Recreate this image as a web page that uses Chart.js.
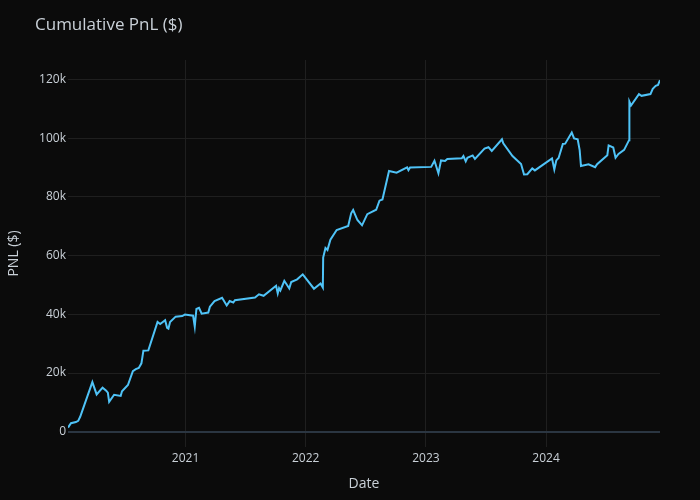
<!DOCTYPE html>
<html>
<head>
<meta charset="utf-8">
<script src="https://cdn.jsdelivr.net/npm/chart.js@4.4.1/dist/chart.umd.min.js"></script>
<style>
  html, body { margin: 0; padding: 0; background: #0b0b0b; }
  canvas { display: block; }
</style>
</head>
<body>
<canvas id="pnl" width="700" height="500"></canvas>
<script>
// trade dates and cumulative pnl
const dates = [
  '2020-01-10', '2020-01-19', '2020-02-03', '2020-02-10', '2020-02-16', '2020-03-24',
  '2020-04-06', '2020-04-24', '2020-05-05', '2020-05-10', '2020-05-14', '2020-05-29',
  '2020-06-18', '2020-06-22', '2020-07-10', '2020-07-25', '2020-08-03', '2020-08-12',
  '2020-08-20', '2020-08-26', '2020-09-10', '2020-10-08', '2020-10-16', '2020-10-31',
  '2020-11-06', '2020-11-10', '2020-11-15', '2020-12-02', '2020-12-22', '2020-12-30',
  '2021-01-24', '2021-01-29', '2021-02-03', '2021-02-11', '2021-02-19', '2021-03-11',
  '2021-03-16', '2021-03-30', '2021-04-22', '2021-05-06', '2021-05-15', '2021-05-26',
  '2021-05-31', '2021-07-31', '2021-08-12', '2021-08-26', '2021-10-03', '2021-10-08',
  '2021-10-12', '2021-10-16', '2021-10-28', '2021-11-12', '2021-11-18', '2021-12-06',
  '2021-12-23', '2022-01-26', '2022-02-15', '2022-02-22', '2022-02-23', '2022-03-02',
  '2022-03-08', '2022-03-17', '2022-04-05', '2022-05-10', '2022-05-19', '2022-05-25',
  '2022-06-07', '2022-06-21', '2022-07-07', '2022-08-03', '2022-08-13', '2022-08-22',
  '2022-09-11', '2022-10-04', '2022-11-05', '2022-11-09', '2022-11-14', '2023-01-17',
  '2023-01-27', '2023-02-08', '2023-02-16', '2023-02-28', '2023-03-07', '2023-04-20',
  '2023-04-25', '2023-05-02', '2023-05-07', '2023-05-23', '2023-05-30', '2023-06-28',
  '2023-07-10', '2023-07-20', '2023-08-20', '2023-08-24', '2023-09-21', '2023-10-17',
  '2023-10-26', '2023-11-05', '2023-11-20', '2023-11-28', '2024-01-19', '2024-01-26',
  '2024-02-01', '2024-02-08', '2024-02-21', '2024-02-28', '2024-03-19', '2024-03-26',
  '2024-04-06', '2024-04-12', '2024-04-16', '2024-05-09', '2024-05-29', '2024-06-04',
  '2024-07-05', '2024-07-09', '2024-07-23', '2024-07-30', '2024-08-08', '2024-08-25',
  '2024-09-09', '2024-09-10', '2024-09-15', '2024-10-09', '2024-10-17', '2024-11-13',
  '2024-11-20', '2024-11-29', '2024-12-06', '2024-12-12'
];
const pnl = [
  1400, 2900, 3300, 3700, 5100, 16900,
  12700, 15000, 14000, 13300, 10200, 12600,
  12200, 13800, 15900, 20600, 21300, 21700,
  23300, 27600, 27700, 37400, 36700, 38000,
  35400, 35100, 37400, 39200, 39400, 39900,
  39500, 35800, 41800, 42200, 40200, 40600,
  42600, 44500, 45600, 43000, 44500, 44000,
  44800, 45700, 46800, 46300, 49700, 47100,
  48900, 48100, 51400, 48800, 51000, 51900,
  53600, 48700, 50500, 49100, 59300, 62600,
  61900, 65400, 68700, 70100, 74400, 75500,
  72100, 70300, 74100, 75600, 78700, 79100,
  88800, 88200, 90000, 89100, 90000, 90200,
  92300, 88000, 92400, 92200, 92900, 93100,
  93900, 92100, 93300, 94100, 92900, 96400,
  96900, 95600, 99600, 98200, 93900, 91200,
  87600, 87700, 89700, 89000, 93100, 89300,
  92400, 93200, 98000, 98100, 101900, 99900,
  99600, 95900, 90500, 91100, 90100, 91100,
  94200, 97500, 96800, 93300, 94600, 96000,
  99300, 112400, 111100, 115000, 114400, 115000,
  116800, 117800, 118100, 119700
];

const yearTicks = ['2021-01-01', '2022-01-01', '2023-01-01', '2024-01-01'];
const yearLabels = ['2021', '2022', '2023', '2024'];
const pnlTicks = [0, 20000, 40000, 60000, 80000, 100000, 120000];

const textColor = '#c9d0d7';
const gridColor = '#1f1f1f';
const zeroColor = '#2b3642';
const lineColor = '#4fc3f7';

Chart.defaults.font.family = '"Open Sans", sans-serif';

const toTime = s => Date.parse(s + 'T00:00:00Z');
const times = dates.map(toTime);
const yearTimes = yearTicks.map(toTime);

const points = times.map((t, i) => ({ x: t, y: pnl[i] }));

// background + title drawn straight on the canvas
const bgTitle = {
  id: 'bgTitle',
  beforeDraw(chart) {
    const c = chart.ctx;
    c.save();
    c.fillStyle = '#0b0b0b';
    c.fillRect(0, 0, chart.width, chart.height);
    c.fillStyle = textColor;
    c.font = '17px "Open Sans", sans-serif';
    c.textBaseline = 'alphabetic';
    c.fillText('Cumulative PnL ($)', 35, 30);
    c.restore();
  }
};

var ctx = document.getElementById('pnl').getContext('2d');
var chart = new Chart(ctx, {
  type: 'line',
  data: {
    datasets: [{
      data: points,
      borderColor: lineColor,
      backgroundColor: 'transparent',
      borderWidth: 2,
      pointRadius: 0,
      tension: 0,
      fill: false
    }]
  },
  options: {
    responsive: false,
    animation: false,
    layout: { padding: { left: 0, right: 40, top: 60, bottom: 8 } },
    plugins: {
      legend: { display: false },
      tooltip: { enabled: false },
      title: { display: false }
    },
    scales: {
      x: {
        type: 'linear',
        bounds: 'data',
        min: times[0],
        max: times[times.length - 1],
        afterBuildTicks: axis => { axis.ticks = yearTimes.map(v => ({ value: v })); },
        afterFit: axis => { axis.height = 45; },
        grid: { color: gridColor, drawTicks: false, lineWidth: 1 },
        border: { display: false },
        ticks: {
          color: textColor,
          font: { size: 12 },
          padding: 4,
          maxRotation: 0,
          autoSkip: false,
          callback: v => {
            const i = yearTimes.indexOf(v);
            return i >= 0 ? yearLabels[i] : '';
          }
        },
        title: {
          display: true,
          text: 'Date',
          color: textColor,
          font: { size: 14 },
          padding: { top: 0, bottom: 0 }
        }
      },
      y: {
        type: 'linear',
        min: -5200,
        max: 126600,
        afterBuildTicks: axis => { axis.ticks = pnlTicks.map(v => ({ value: v })); },
        afterFit: axis => { axis.width = 68; },
        grid: {
          drawTicks: false,
          color: c => (c.tick && c.tick.value === 0 ? zeroColor : gridColor),
          lineWidth: c => (c.tick && c.tick.value === 0 ? 2 : 1)
        },
        border: { display: false },
        ticks: {
          color: textColor,
          font: { size: 12 },
          padding: 2,
          callback: v => (v === 0 ? '0' : v / 1000 + 'k')
        },
        title: {
          display: true,
          text: 'PNL ($)',
          color: textColor,
          font: { size: 14 },
          padding: { top: 6, bottom: 0 }
        }
      }
    }
  },
  plugins: [bgTitle]
});
</script>
</body>
</html>
